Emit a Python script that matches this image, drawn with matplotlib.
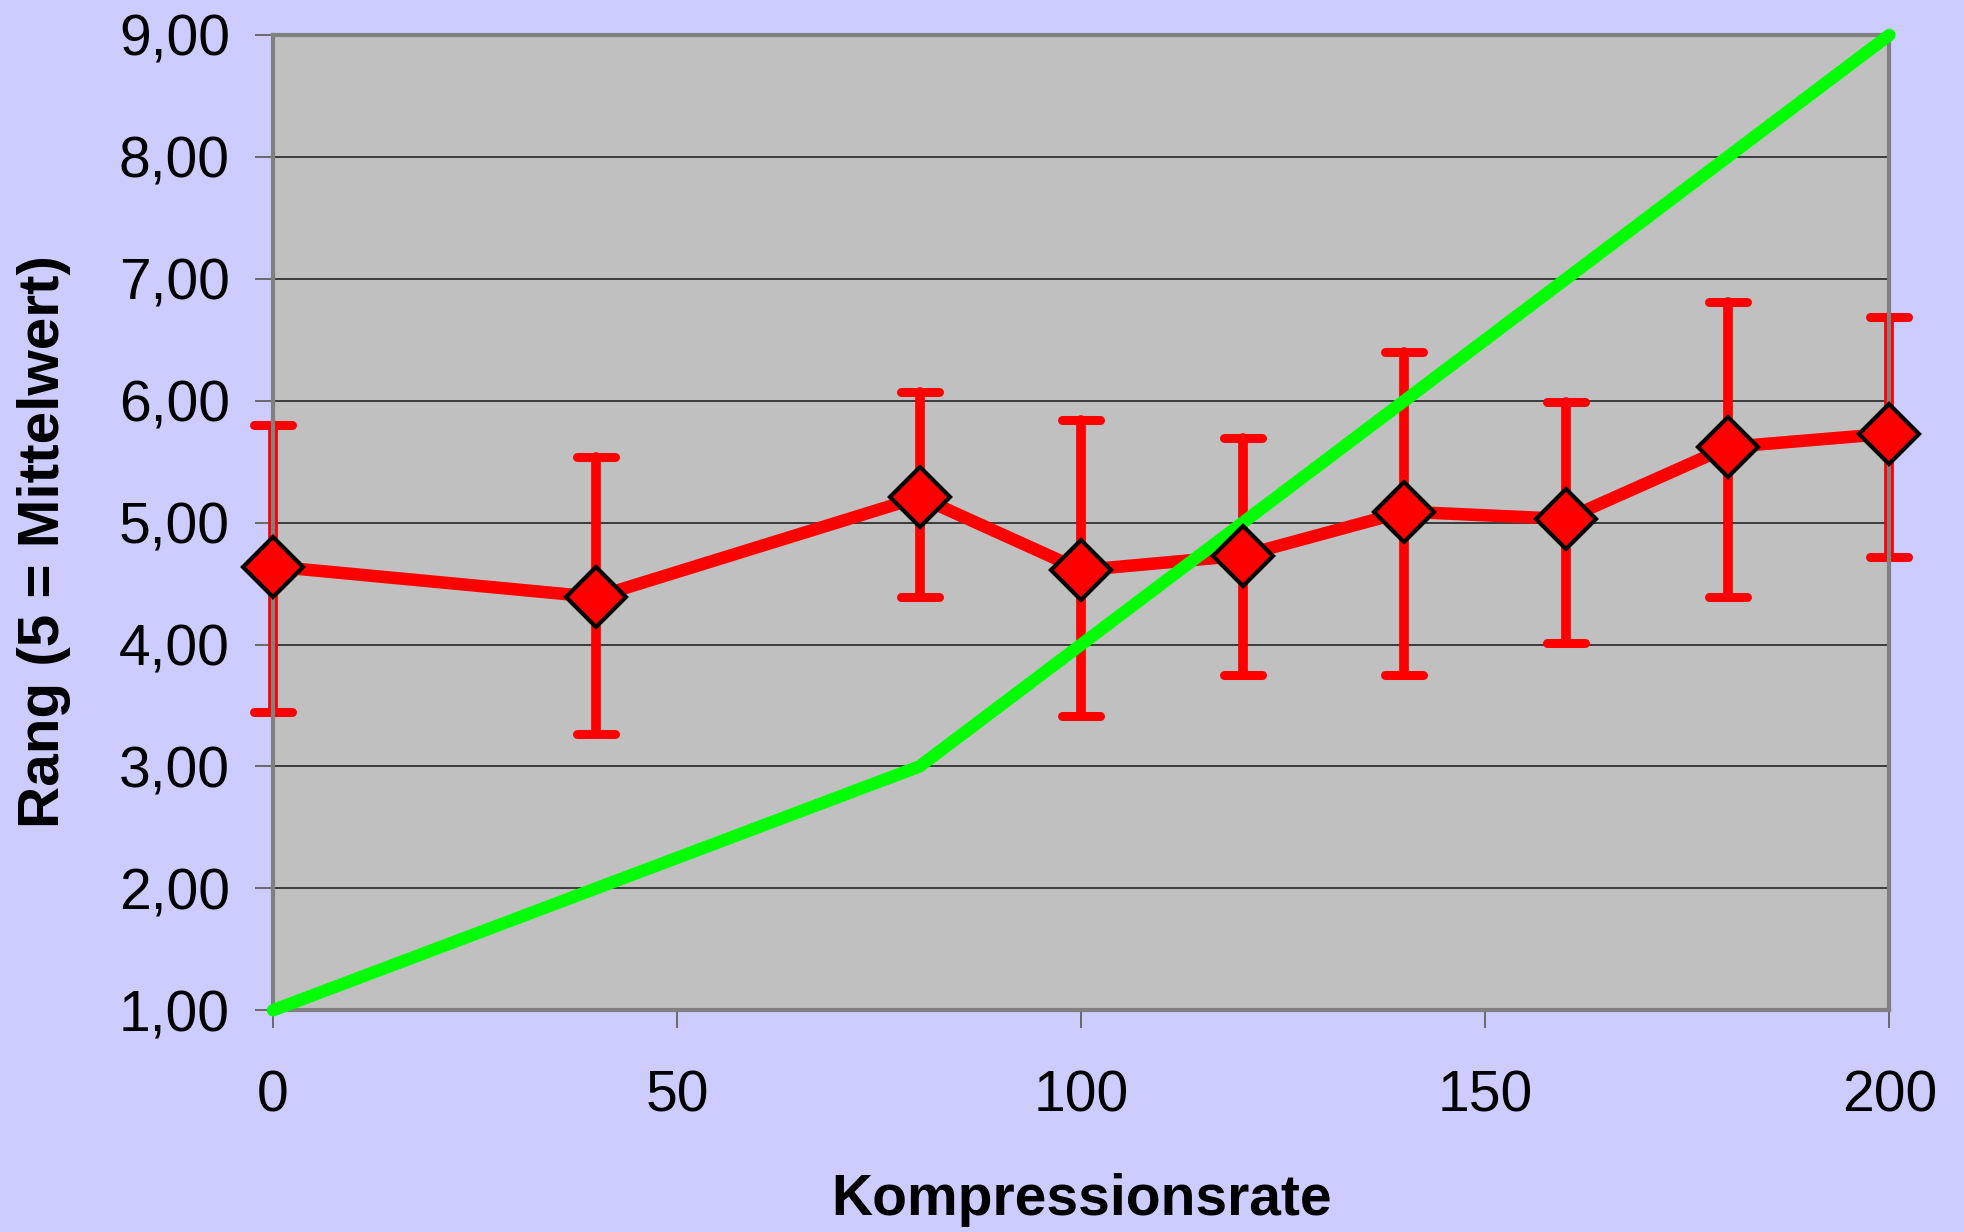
import numpy as np
import matplotlib.pyplot as plt
from matplotlib.ticker import FuncFormatter
from matplotlib.markers import MarkerStyle

# Daten
kompression = [0, 40, 80, 100, 120, 140, 160, 180, 200]
rang_mittel = [4.64, 4.39, 5.21, 4.61, 4.73, 5.09, 5.03, 5.62, 5.73]
rang_oben = [5.80, 5.54, 6.07, 5.84, 5.69, 6.40, 5.99, 6.81, 6.69]
rang_unten = [3.45, 3.27, 4.39, 3.41, 3.75, 3.75, 4.01, 4.39, 4.72]
referenz = [1, 2, 3, 4, 5, 6, 7, 8, 9]

plt.rcParams['font.family'] = ['Liberation Sans', 'DejaVu Sans']

fig = plt.figure(figsize=(19.64, 12.32), dpi=100, facecolor='#CCCCFF')
ax = fig.add_axes([0.139, 0.180, 0.823, 0.7916])
ax.set_facecolor('#C0C0C0')

mittel = np.array(rang_mittel)
yerr = [mittel - np.array(rang_unten), np.array(rang_oben) - mittel]

# Fehlerbalken
_, caps, bars = ax.errorbar(kompression, rang_mittel, yerr=yerr, fmt='none', ecolor='#FF0000',
                            elinewidth=7, capsize=14, capthick=6.5, zorder=2.5)
for b in bars:
    b.set_capstyle('round')
    b.set_clip_on(False)
for c in caps:
    c.set_marker(MarkerStyle('_', capstyle='round'))
    c.set_clip_on(False)

# Mittelwerte (Linie), Referenzlinie, dann Marker obenauf
ax.plot(kompression, rang_mittel, color='#FF0000', lw=9, solid_joinstyle='round',
        zorder=3, clip_on=False)
ax.plot(kompression, referenz, color='#00FF00', lw=9, solid_capstyle='round',
        solid_joinstyle='round', zorder=4, clip_on=False)
ax.plot(kompression, rang_mittel, ls='none', marker='D', markersize=31,
        markerfacecolor='#FF0000', markeredgecolor='black', markeredgewidth=3,
        zorder=5, clip_on=False)

ax.set_xlim(0, 200)
ax.set_ylim(1, 9)
ax.set_xticks([0, 50, 100, 150, 200])
ax.set_yticks(np.arange(1, 10))
ax.yaxis.set_major_formatter(FuncFormatter(lambda v, p: f'{v:.2f}'.replace('.', ',')))
ax.grid(axis='y', color='#303030', lw=1.3)
ax.set_axisbelow(True)

for s in ax.spines.values():
    s.set_color('#808080')
    s.set_linewidth(3)

ax.tick_params(axis='both', direction='out', length=13, width=1.3, color='#606060',
               labelsize=41)
ax.tick_params(axis='x', pad=30)
ax.tick_params(axis='y', pad=18)

ax.set_xlabel('Kompressionsrate', fontsize=41, fontweight='bold', va='center')
ax.set_ylabel('Rang (5 = Mittelwert)', fontsize=42, fontweight='bold', va='center')
ax.xaxis.set_label_coords(0.5, -0.195)
ax.yaxis.set_label_coords(-0.1417, 0.481)

fig.savefig('out.png', dpi=100, facecolor=fig.get_facecolor())
